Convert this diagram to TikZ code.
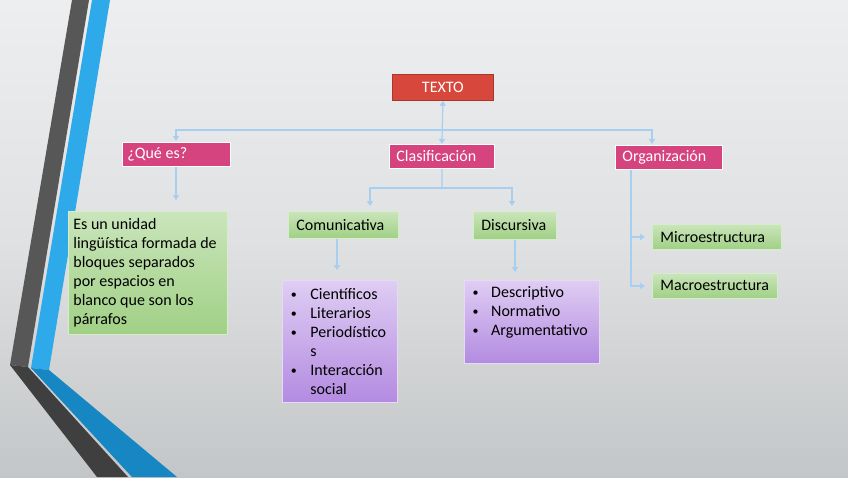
\documentclass[tikz,border=0pt]{standalone}
\usepackage{fontspec}
\setmainfont{Carlito}
\usetikzlibrary{arrows.meta,calc}
\definecolor{bgT}{HTML}{EDEEEF}
\definecolor{bgM}{HTML}{E0E1E2}
\definecolor{bgB}{HTML}{C3C6C8}
\definecolor{darkU}{HTML}{575757}
\definecolor{darkL}{HTML}{3F3F3F}
\definecolor{blueU}{HTML}{2EA9E9}
\definecolor{blueL}{HTML}{1787C4}
\definecolor{pinkc}{HTML}{D5447F}
\definecolor{redc}{HTML}{D8473B}
\definecolor{redb}{HTML}{A9372E}
\definecolor{grT}{HTML}{CAE5BB}
\definecolor{grB}{HTML}{A0D085}
\definecolor{grD}{HTML}{D6ECCB}
\definecolor{puT}{HTML}{DFCDF3}
\definecolor{puB}{HTML}{B38BE1}
\definecolor{puD}{HTML}{E6D9F5}
\definecolor{connc}{HTML}{A8CEF0}
\tikzset{
  txt/.style={font=\fontsize{16}{19}\selectfont},
  boxbase/.style={txt, rectangle, anchor=north west, inner ysep=2pt, align=flush left},
  pinkbox/.style={boxbase, fill=pinkc, draw=white, line width=0.8pt, text=white},
  redbox/.style={txt, rectangle, anchor=north west, fill=redc, draw=redb, line width=0.8pt, text=white, align=center},
  greenbox/.style={boxbase, top color=grT, bottom color=grB, draw=grD, line width=0.8pt, text=black},
  purplebox/.style={boxbase, top color=puT, bottom color=puB, draw=puD, line width=0.8pt, text=black},
  conn/.style={draw=connc, line width=1.2pt},
  arr/.style={conn, -{Triangle[length=5pt,width=6pt]}},
}
\newcommand{\bul}[1]{\makebox[#1][l]{\hspace*{1.5pt}\raisebox{0.8pt}{\fontsize{12}{19}\selectfont\textbullet}}}
\begin{document}
\begin{tikzpicture}[x=1pt,y=-1pt]
\useasboundingbox (0,0) rectangle (848,477);
% background
\shade[top color=bgT, bottom color=bgB, middle color=bgM] (0,0) rectangle (848,477);
% decorative stripes
\fill[darkU] (72,0) -- (89,0) -- (28,367) -- (10,365) -- cycle;
\fill[darkL] (10,365) -- (28,367) -- (128,477) -- (97,477) -- cycle;
\fill[blueU] (92,0) -- (110,0) -- (49,370) -- (31,368) -- cycle;
\fill[blueL] (31,368) -- (49,370) -- (177,477) -- (132,477) -- cycle;

% nodes
\node[redbox, minimum width=101pt, minimum height=26pt] (texto) at (392,74) {TEXTO};
\node[pinkbox, inner xsep=5pt, text width=98pt, minimum width=108pt, minimum height=24pt] (que) at (122,142) {¿Qué es?};
\node[pinkbox, inner xsep=7pt, text width=91pt, minimum width=105pt, minimum height=24pt] (clas) at (389,144) {Clasificación};
\node[pinkbox, inner xsep=7pt, text width=93pt, minimum width=107pt, minimum height=24pt] (org) at (615,145) {Organización};

\node[greenbox, inner xsep=5pt, text width=149pt, minimum width=159pt, minimum height=123pt] (gbox) at (68,211)
  {Es un unidad\\lingüística formada de\\bloques separados\\por espacios en\\blanco que son los\\párrafos};
\node[greenbox, inner xsep=8pt, text width=94pt, minimum width=110pt, minimum height=27pt] (com) at (288,211) {Comunicativa};
\node[greenbox, inner xsep=8pt, text width=67pt, minimum width=83pt, minimum height=28pt] (dis) at (473,211) {Discursiva};
\node[greenbox, inner xsep=8pt, text width=113pt, minimum width=129pt, minimum height=25pt] (micro) at (652,224) {Microestructura};
\node[greenbox, inner xsep=8pt, text width=109pt, minimum width=125pt, minimum height=25pt] (macro) at (652,273) {Macroestructura};

\node[purplebox, inner xsep=7pt, text width=101pt, minimum width=115pt, minimum height=122pt] (p1) at (282,280)
  {\bul{21pt}Científicos\\\bul{21pt}Literarios\\\bul{21pt}Periodístico\\\hspace*{21pt}s\\\bul{21pt}Interacción\\\hspace*{21pt}social};
\node[purplebox, minimum width=135pt, minimum height=83pt] (p2) at (464,280) {};
\node[boxbase, inner xsep=7pt, inner ysep=6pt, text width=121pt] (p2t) at (p2.north west)
  {\bul{20pt}Descriptivo\\\bul{20pt}Normativo\\\bul{20pt}Argumentativo};

% connectors
\coordinate (hub) at (442,130);
\coordinate (split) at (442,188);
\coordinate (cA) at (370,0);
\coordinate (dA) at (512,0);
\coordinate (cB) at (337,0);
\coordinate (dB) at (515,0);
\coordinate (qX) at (176,0);
\coordinate (oX) at (652,0);
\coordinate (oV) at (631,0);

\draw[conn, {Triangle[length=5pt,width=6pt]}-{Triangle[length=5pt,width=6pt]}] (texto.south) -- (clas.north);
\draw[arr, shorten >=1pt] (hub) -| (qX |- que.north);
\draw[arr, shorten >=1pt] (hub) -| (oX |- org.north);
\draw[arr, shorten >=11pt] (qX |- que.south) -- (qX |- gbox.north);
\draw[conn] (clas.south) -- (split);
\draw[arr, shorten >=5pt] (split) -| (cA |- com.north);
\draw[arr, shorten >=5pt] (split) -| (dA |- dis.north);
\draw[arr, shorten >=10pt] (cB |- com.south) -- (cB |- p1.north);
\draw[arr, shorten >=8pt] (dB |- dis.south) -- (dB |- p2.north);
\draw[arr, shorten >=7pt] (oV |- org.south) |- (micro.west);
\draw[arr, shorten >=7pt] (oV |- org.south) |- (macro.west);
\end{tikzpicture}
\end{document}
